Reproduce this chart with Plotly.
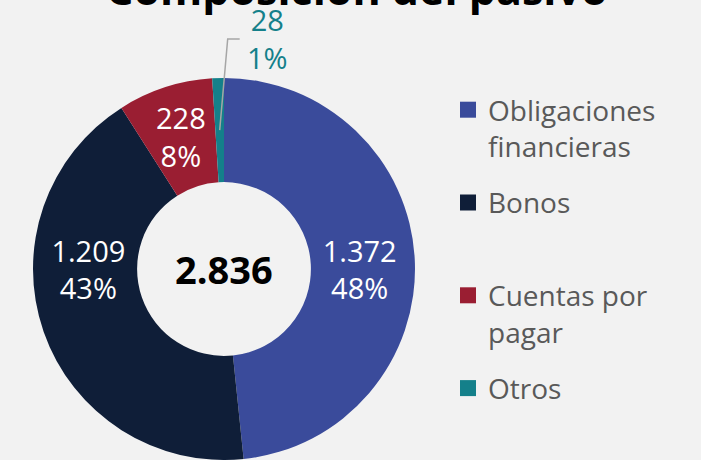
import math
import plotly.graph_objects as go

# ---- data ----
categories = ["Obligaciones<br>financieras", "Bonos<br> ", "Cuentas por<br>pagar", "Otros"]
values = [1372, 1209, 228, 28]
total_label = 2836
colors = ["#3A4B9B", "#0F1E38", "#9A1E32", "#14808A"]
title_text = "Composición del pasivo"

W, H = 701, 460
total = sum(values)
FONT = "Open Sans"


def fmt(v):
    return f"{v:,}".replace(",", ".")


pcts = [round(v / total * 100) for v in values]
labels_txt = [f"{fmt(v)}<br>{p}%" for v, p in zip(values, pcts)]
# the two narrow slices are labelled with annotations (no shrinking)
inside_txt = [t if v / total > 0.2 else "" for t, v in zip(labels_txt, values)]

dom_x = [0, 448 / W]
dom_y = [0, 382 / H]
hole = 0.455

fig = go.Figure()
fig.add_trace(go.Pie(
    labels=categories,
    values=values,
    text=inside_txt,
    texttemplate="%{text}",
    textposition="inside",
    insidetextorientation="horizontal",
    textfont=dict(family=FONT, size=29, color="white"),
    marker=dict(colors=colors, line=dict(width=0)),
    hole=hole,
    sort=False,
    direction="clockwise",
    rotation=0,
    domain=dict(x=dom_x, y=dom_y),
    showlegend=False,
    hoverinfo="label+value+percent",
))

# legend entries (one per category, so item spacing can be controlled)
for i, (cat, col) in enumerate(zip(categories, colors)):
    fig.add_trace(go.Scatter(
        x=[None], y=[None], mode="markers", name=cat,
        marker=dict(symbol="square", size=17, color=col),
        legendgroup=f"g{i}", showlegend=True, hoverinfo="skip",
    ))

# pie geometry in pixels
cx = (dom_x[0] + dom_x[1]) / 2 * W
cy = H - (dom_y[0] + dom_y[1]) / 2 * H
R = min((dom_x[1] - dom_x[0]) * W, (dom_y[1] - dom_y[0]) * H) / 2
r_mid = R * (1 + hole) / 2


def slice_mid(idx):
    start = sum(values[:idx]) / total * 360
    ang = math.radians(start + values[idx] / total * 360 / 2)
    return cx + r_mid * math.sin(ang), cy - r_mid * math.cos(ang)


def to_paper(x, y):
    return x / W, 1 - y / H


# label of "Cuentas por pagar" inside its slice
sx, sy = slice_mid(2)
fig.add_annotation(x=sx / W, y=1 - sy / H, xref="paper", yref="paper",
                   text=labels_txt[2], showarrow=False,
                   xanchor="center", yanchor="middle",
                   font=dict(family=FONT, size=29, color="white"))

# label of "Otros" outside with elbow leader line
px, py = slice_mid(3)
elbow_y = 39
bx, ex = px + 8, px + 20
p1, p2, p3 = to_paper(px, py), to_paper(bx, elbow_y), to_paper(ex, elbow_y)
fig.add_shape(type="path", xref="paper", yref="paper",
              path=f"M {p1[0]} {p1[1]} L {p2[0]} {p2[1]} L {p3[0]} {p3[1]}",
              line=dict(color="#A6A6A6", width=1.5))
fig.add_annotation(x=(ex + 28) / W, y=1 - elbow_y / H, xref="paper", yref="paper",
                   text=labels_txt[3], showarrow=False,
                   xanchor="center", yanchor="middle",
                   font=dict(family=FONT, size=29, color=colors[3]))

# total in the hole
fig.add_annotation(x=cx / W, y=1 - cy / H, xref="paper", yref="paper",
                   text=f"<b>{fmt(total_label)}</b>", showarrow=False,
                   xanchor="center", yanchor="middle",
                   font=dict(family=FONT, size=38, color="#000000"))

# title (partly cut off at the top, as in the reference)
fig.add_annotation(x=357 / W, y=1, xref="paper", yref="paper",
                   text=f"<b>{title_text}</b>", showarrow=False,
                   xanchor="center", yanchor="middle", yshift=12,
                   font=dict(family=FONT, size=43, color="#000000"))

fig.update_layout(
    width=W, height=H,
    margin=dict(l=0, r=0, t=0, b=0),
    paper_bgcolor="#F2F2F2",
    plot_bgcolor="#F2F2F2",
    showlegend=True,
    xaxis=dict(visible=False),
    yaxis=dict(visible=False),
    legend=dict(x=448 / W, xanchor="left", y=1 - 85 / H, yanchor="top",
                valign="top", bgcolor="rgba(0,0,0,0)", tracegroupgap=17,
                font=dict(family=FONT, size=28, color="#595959")),
)

fig.write_html("out.html", config={"displayModeBar": False},
               post_script="document.body.style.margin='0';")
